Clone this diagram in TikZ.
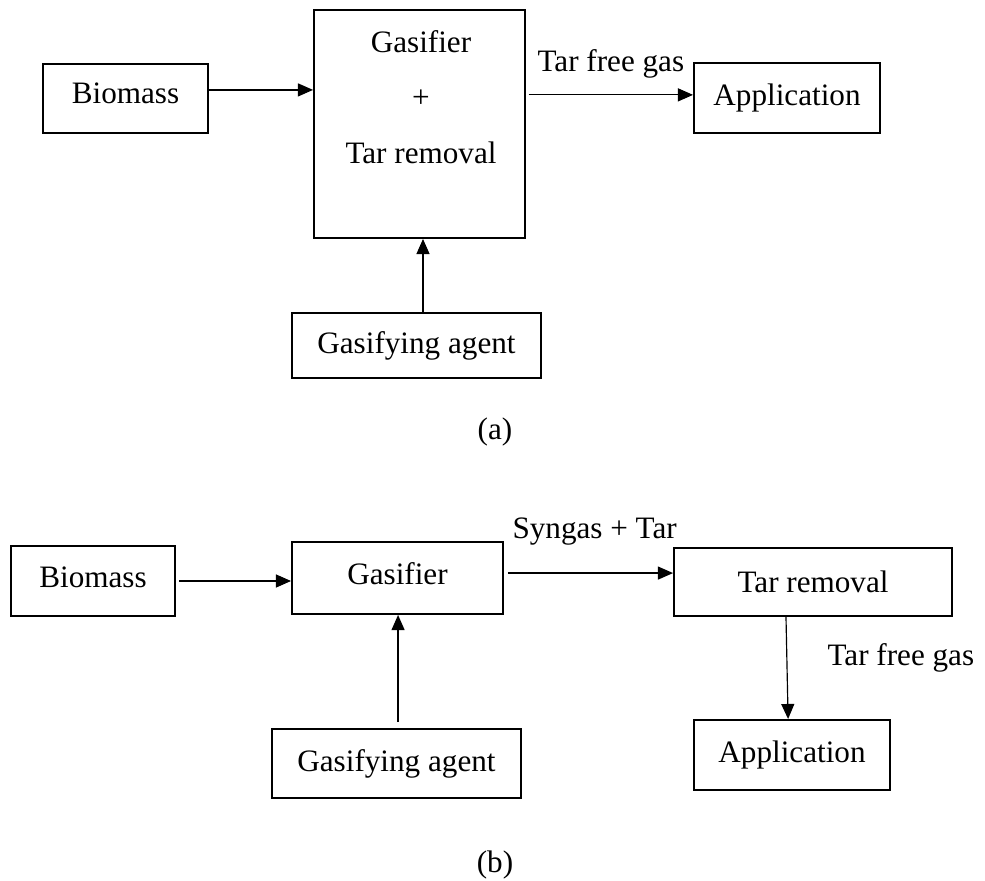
\documentclass[tikz,border=0pt]{standalone}
\usepackage{fontspec}
\setmainfont{Liberation Serif}
\usetikzlibrary{arrows.meta}
\begin{document}
\begin{tikzpicture}[x=0.385pt,y=-0.385pt,
  box/.style={draw, line width=0.75pt, inner sep=0pt, font=\fontsize{12}{14}\selectfont},
  txt/.style={inner sep=0pt, font=\fontsize{12}{14}\selectfont},
  arr/.style={line width=0.45pt, -{Triangle[length=5.8pt,width=5pt]}}]
\useasboundingbox (0,0) rectangle (985,881);
% ---------- (a) ----------
\node[box, text depth=3.8pt, minimum width=165*0.385pt, minimum height=69*0.385pt] (bioA) at (125.5,98.5) {Biomass};
\node[box, minimum width=211*0.385pt, minimum height=228*0.385pt] (gasA) at (419.5,124) {};
\node[txt, align=center, font=\fontsize{12}{21.4}\selectfont] (gasAtxt) at (421,97) {Gasifier\\+\\Tar removal};
\node[box, minimum width=186*0.385pt, minimum height=70*0.385pt] (appA) at (787,98) {Application};
\node[box, minimum width=249*0.385pt, minimum height=65*0.385pt] (agentA) at (416.5,345.5) {Gasifying agent};
\node[txt, anchor=base west] (lblA) at (537,72) {Tar free gas};
\node[txt] (capA) at (495,432) {(a)};
\coordinate (pA0) at ([yshift=3.3pt]bioA.east);
\draw[arr] (pA0) -- (pA0 -| gasA.west);
\coordinate (pA) at ([yshift=1.2pt]appA.west);
\draw[arr, shorten <=1pt] (pA -| gasA.east) -- (pA);
\coordinate (uA) at ([xshift=2.5pt]agentA.north);
\draw[arr] (uA) -- (uA |- gasA.south);
% ---------- (b) ----------
\node[box, text depth=3pt, minimum width=164*0.385pt, minimum height=70*0.385pt] (bioB) at (93,581) {Biomass};
\node[box, text depth=3.8pt, minimum width=211*0.385pt, minimum height=72*0.385pt] (gasB) at (397.5,578) {Gasifier};
\node[box, minimum width=278*0.385pt, minimum height=68*0.385pt] (tarB) at (813,582) {Tar removal};
\node[box, minimum width=196*0.385pt, minimum height=70*0.385pt] (appB) at (792,755) {Application};
\node[box, minimum width=249*0.385pt, minimum height=69*0.385pt] (agentB) at (396.5,763.5) {Gasifying agent};
\node[txt, anchor=base west] (lblB1) at (512,538) {Syngas + Tar};
\node[txt, anchor=base west] (lblB2) at (827,665) {Tar free gas};
\node[txt] (capB) at (495,865) {(b)};
\draw[arr, shorten <=1.2pt] (bioB.east) -- (bioB.east -| gasB.west);
\coordinate (pB) at ([yshift=1.9pt]gasB.east);
\draw[arr, shorten <=1.5pt] (pB) -- (pB -| tarB.west);
\coordinate (dB1) at ([xshift=-10.4pt]tarB.south);
\coordinate (dB2) at ([xshift=-1.5pt]appB.north);
\draw[arr] (dB1) -- (dB2);
\coordinate (uB) at ([xshift=0.6pt]agentB.north);
\draw[arr, shorten <=2.3pt] (uB) -- (uB |- gasB.south);
\end{tikzpicture}
\end{document}
